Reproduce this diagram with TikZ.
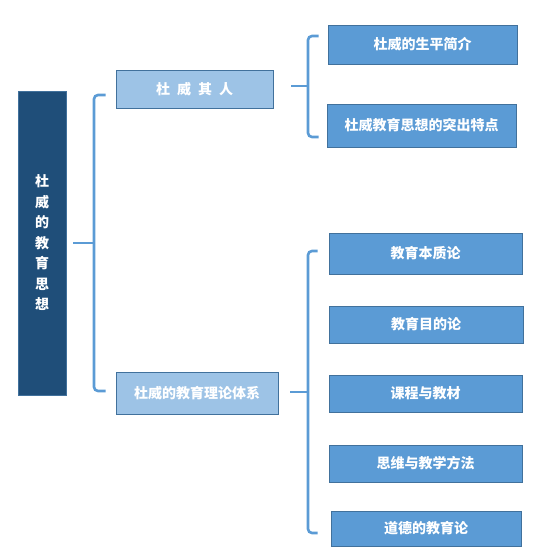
\documentclass[tikz,border=0pt]{standalone}
\usepackage{fontspec}
\setmainfont{Noto Sans CJK SC}
\usepackage{xcolor}
\usepackage{tikz}
\usetikzlibrary{positioning,calc}

\definecolor{rootblue}{HTML}{1F4E79}
\definecolor{edgeblue}{HTML}{41719C}
\definecolor{paleblue}{HTML}{9DC3E6}
\definecolor{midblue}{HTML}{5B9BD5}

\begin{document}
\begin{tikzpicture}[
  x=1pt, y=-1pt,
  rootbox/.style={rectangle, draw=edgeblue, line width=0.8pt, fill=rootblue, text=white, font=\fontsize{14pt}{20.5pt}\selectfont\bfseries, align=center, minimum width=48pt, minimum height=304pt, inner sep=0pt},
  partbox/.style={rectangle, draw=edgeblue, line width=0.8pt, fill=paleblue, text=white, font=\fontsize{14pt}{16pt}\selectfont\bfseries, minimum height=38pt, inner sep=0pt},
  topicbox/.style={rectangle, draw=edgeblue, line width=0.8pt, fill=midblue, text=white, font=\fontsize{14pt}{16pt}\selectfont\bfseries, inner sep=0pt},
  brace/.style={draw=midblue, line width=2.6pt, rounded corners=4pt}
]
\useasboundingbox (0,0) rectangle (540,556);

\node[rootbox] (root) at (42,243) {杜\\威\\的\\教\\育\\思\\想};

\node[partbox, minimum width=157pt] (person) at (194.5,89) {杜\kern7pt 威\kern7pt 其\kern7pt 人};
\node[partbox, minimum width=162pt, minimum height=42pt] (theory) at (197,393) {杜威的教育理论体系};

\node[topicbox, minimum width=189pt, minimum height=39pt] (life) at (422.5,44.5) {杜威的生平简介};
\node[topicbox, minimum width=189pt, minimum height=43pt] (feature) at (421.5,125.5) {杜威教育思想的突出特点};

\node[topicbox, minimum width=193pt, minimum height=41pt] (nature) at (425.5,253.5) {教育本质论};
\node[topicbox, minimum width=194pt, minimum height=37pt] (aim) at (426,324.5) {教育目的论};
\node[topicbox, minimum width=193pt, minimum height=37pt] (course) at (425.5,393.5) {课程与教材};
\node[topicbox, minimum width=193pt, minimum height=37pt] (method) at (425.5,463.5) {思维与教学方法};
\node[topicbox, minimum width=190pt, minimum height=35pt] (moral) at (426,528.5) {道德的教育论};

% bracket: root -> parts
\coordinate (rootfork) at (94,243);
\draw[brace] ([xshift=7pt]root.east) -- (rootfork);
\draw[brace] ([xshift=-10pt]person.west |- 0,95) -- (94,95) -- (94,391) -- ([xshift=-10pt]theory.west |- 0,391);

% bracket: person -> life, feature
\coordinate (personfork) at (308,86);
\draw[brace] ([xshift=18pt]person.east |- personfork) -- (personfork);
\draw[brace] ([xshift=-9pt]life.west |- 0,36) -- (308,36) -- (308,137) -- ([xshift=-8pt]feature.west |- 0,137);

% bracket: theory -> five topics
\coordinate (theoryfork) at (308,392);
\draw[brace] ([xshift=12pt]theory.east |- theoryfork) -- (theoryfork);
\draw[brace] ([xshift=-11pt]nature.west |- 0,251) -- (308,251) -- (308,533) -- ([xshift=-13pt]moral.west |- 0,533);

\end{tikzpicture}
\end{document}
